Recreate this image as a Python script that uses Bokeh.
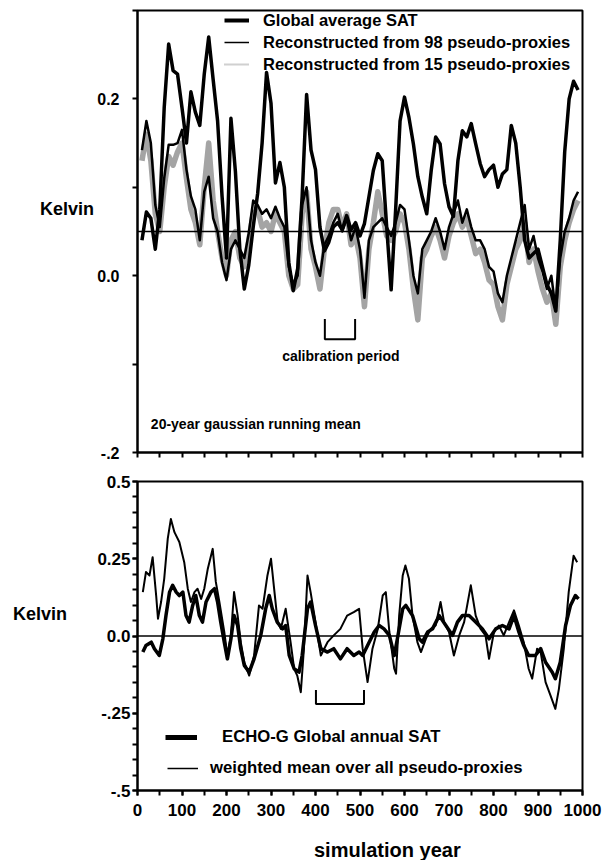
from bokeh.plotting import figure
from bokeh.layouts import column, row
from bokeh.models import (Range1d, FixedTicker, Span, Label, Legend, LegendItem,
                          CustomJSTickFormatter, Div)
from bokeh.embed import file_html
from bokeh.resources import INLINE

FONT = "Liberation Sans"
NAN = float("nan")

# ---------------- data: upper panel (20-year gaussian running mean) -------------
top_years = list(range(10, 1000, 10))
sat_top = [0.040, 0.072, 0.065, 0.030, 0.075, 0.190, 0.262, 0.232, 0.228, 0.190,
           0.150, 0.208, 0.185, 0.170, 0.228, 0.270, 0.222, 0.175, 0.090, 0.020,
           0.178, 0.118, 0.030, -0.015, 0.012, 0.055, 0.093, 0.150, 0.230, 0.195,
           0.105, 0.128, 0.100, 0.015, -0.017, 0.008, 0.090, 0.205, 0.142, 0.120,
           0.055, 0.028, 0.038, 0.055, 0.060, 0.052, 0.068, 0.052, 0.060, 0.045,
           0.059, 0.089, 0.119, 0.138, 0.130, 0.055, -0.016, 0.074, 0.175, 0.202,
           0.179, 0.149, 0.112, 0.089, 0.070, 0.119, 0.157, 0.149, 0.104, 0.078,
           0.067, 0.130, 0.164, 0.157, 0.172, 0.149, 0.127, 0.112, 0.120, 0.125,
           0.100, 0.115, 0.120, 0.170, 0.150, 0.100, 0.040, 0.020, 0.025, 0.030,
           0.010, -0.010, -0.020, -0.040, 0.040, 0.140, 0.200, 0.220, 0.210]
rec98_top = [0.142, 0.175, 0.150, 0.080, 0.055, 0.110, 0.148, 0.148, 0.150, 0.165,
             0.120, 0.090, 0.075, 0.040, 0.095, 0.112, 0.065, 0.050, 0.015, -0.005,
             0.030, 0.040, 0.030, 0.020, 0.048, 0.085, 0.080, 0.070, 0.075, 0.065,
             0.078, 0.065, 0.055, 0.010, -0.010, 0.000, 0.080, 0.100, 0.040, 0.015,
             0.000, 0.035, 0.045, 0.060, 0.070, 0.050, 0.065, 0.040, 0.055, 0.030,
             -0.025, 0.040, 0.055, 0.060, 0.065, 0.055, 0.045, 0.060, 0.080, 0.075,
             0.040, 0.000, -0.020, 0.030, 0.040, 0.050, 0.065, 0.050, 0.030, 0.055,
             0.070, 0.085, 0.060, 0.075, 0.055, 0.040, 0.040, 0.030, 0.010, 0.005,
             -0.020, -0.030, 0.000, 0.020, 0.040, 0.060, 0.080, 0.030, 0.045, 0.020,
             0.005, -0.015, 0.000, -0.040, 0.020, 0.050, 0.065, 0.085, 0.095]
rec15_top = [0.130, 0.160, 0.130, 0.070, 0.050, 0.100, 0.135, 0.125, 0.140, 0.150,
             0.110, 0.075, 0.060, 0.035, 0.100, 0.150, 0.085, 0.050, 0.020, 0.000,
             0.040, 0.050, 0.020, 0.010, 0.040, 0.070, 0.075, 0.055, 0.060, 0.050,
             0.070, 0.060, 0.050, 0.000, -0.015, -0.010, 0.070, 0.095, 0.030, 0.010,
             -0.015, 0.030, 0.060, 0.075, 0.075, 0.055, 0.070, 0.035, 0.045, 0.020,
             -0.035, 0.030, 0.060, 0.095, 0.070, 0.045, 0.040, 0.050, 0.070, 0.060,
             0.030, -0.015, -0.050, 0.020, 0.030, 0.045, 0.055, 0.040, 0.020, 0.045,
             0.060, 0.070, 0.055, 0.065, 0.045, 0.025, 0.030, 0.015, -0.005, -0.010,
             -0.035, -0.050, -0.010, 0.010, 0.030, 0.040, 0.060, 0.015, 0.030, 0.005,
             -0.015, -0.030, -0.020, -0.055, 0.010, 0.040, 0.060, 0.075, 0.085]
top_ref_level = 0.05
calib_top = [421, 489]

# ---------------- data: lower panel (annual) ----------------
thin_years = [12, 19, 27, 34, 42, 46, 53, 60, 68, 75, 83, 94, 105, 113, 120, 128, 135, 143,
              150, 158, 169, 176, 184, 195, 202, 210, 217, 225, 232, 240, 251, 262, 273,
              281, 292, 300, 307, 315, 322, 333, 344, 352, 359, 367, 374, 382, 389, 400,
              412, 427, 441, 456, 471, 486, 498, 506, 517, 528, 540, 551, 558, 566, 577,
              581, 588, 596, 602, 610, 618, 629, 637, 648, 659, 670, 681, 689, 700, 711,
              723, 734, 749, 760, 771, 782, 790, 801, 812, 823, 835, 846, 857, 868, 879,
              887, 898, 906, 917, 928, 939, 947, 958, 969, 980, 988]
thin_vals = [0.142, 0.207, 0.196, 0.255, 0.130, 0.056, 0.110, 0.185, 0.315, 0.379, 0.336,
             0.304, 0.239, 0.153, 0.110, 0.142, 0.153, 0.120, 0.153, 0.218, 0.282, 0.175,
             0.110, 0.013, -0.063, 0.002, 0.142, 0.067, -0.020, -0.085, -0.128, -0.063,
             0.099, 0.088, 0.196, 0.250, 0.153, 0.045, 0.023, 0.088, -0.020, -0.106,
             -0.128, -0.182, -0.040, 0.196, 0.142, 0.045, -0.063, -0.020, 0.002, 0.023,
             0.066, 0.077, 0.088, -0.041, -0.149, -0.041, 0.023, 0.131, 0.142, 0.013,
             -0.106, -0.122, 0.066, 0.196, 0.228, 0.185, 0.066, -0.020, -0.052, -0.009,
             0.023, 0.034, 0.110, 0.045, 0.013, -0.063, 0.002, 0.045, 0.164, 0.066,
             0.023, 0.002, -0.074, 0.013, 0.034, 0.002, 0.045, 0.083, 0.034, -0.020,
             -0.106, -0.138, -0.041, -0.052, -0.149, -0.192, -0.236, -0.171, -0.041,
             0.142, 0.260, 0.239]
thick_years = [12, 19, 31, 38, 49, 57, 64, 72, 79, 87, 94, 102, 109, 116, 124, 131, 139,
               146, 154, 165, 173, 180, 187, 195, 202, 210, 217, 225, 232, 240, 251, 262,
               277, 288, 296, 303, 314, 326, 333, 341, 352, 363, 370, 382, 389, 400, 412,
               427, 441, 456, 471, 486, 498, 506, 517, 532, 543, 554, 566, 577, 584, 596,
               603, 618, 633, 640, 652, 663, 678, 693, 708, 719, 730, 745, 760, 775, 790,
               805, 820, 835, 846, 857, 868, 879, 894, 906, 917, 932, 939, 950, 962, 973,
               984, 991]
thick_vals = [-0.052, -0.031, -0.020, -0.041, -0.063, -0.009, 0.066, 0.142, 0.164, 0.142,
              0.131, 0.142, 0.066, 0.045, 0.099, 0.131, 0.066, 0.045, 0.110, 0.142, 0.153,
              0.110, 0.045, -0.020, -0.074, -0.009, 0.066, 0.034, -0.041, -0.095, -0.117,
              -0.074, 0.002, 0.088, 0.131, 0.088, 0.045, 0.023, 0.034, -0.063, -0.106,
              -0.117, -0.063, 0.088, 0.110, 0.034, -0.041, -0.052, -0.041, -0.074, -0.041,
              -0.063, -0.052, -0.063, -0.031, 0.013, 0.034, 0.023, 0.002, -0.063, -0.009,
              0.088, 0.099, 0.066, -0.009, -0.020, 0.013, 0.023, 0.066, 0.034, 0.002,
              0.045, 0.066, 0.066, 0.045, 0.023, -0.009, 0.023, 0.034, 0.023, 0.066,
              0.013, -0.031, -0.063, -0.063, -0.041, -0.085, -0.117, -0.138, -0.085,
              0.034, 0.099, 0.131, 0.120]
calib_bot = [401, 509]

top_major_y = [-0.2, 0.0, 0.2]
top_minor_y = [-0.1, 0.1, 0.3]
bot_major_y = [-0.5, -0.25, 0.0, 0.25, 0.5]
bot_minor_y = [round(-0.5 + 0.05 * i, 2) for i in range(21)]
x_ticks_all = list(range(0, 1001, 50))
x_ticks_lab = list(range(0, 1001, 100))

DIV_W = 94
FIG_W = 607 - DIV_W
TEXT_CSS = ("position:absolute;left:%dpx;top:%dpx;font-family:'Liberation Sans',Arial,"
            "sans-serif;font-weight:bold;font-size:%dpx;line-height:%dpx;"
            "white-space:nowrap;color:black;")


def style(p):
    p.xgrid.visible = False
    p.ygrid.visible = False
    p.outline_line_color = "black"
    p.outline_line_width = 2
    p.outline_line_alpha = 1
    for ax in (p.xaxis[0], p.yaxis[0]):
        ax.axis_line_width = 2
        ax.axis_line_color = "black"
        ax.major_tick_line_width = 2
        ax.minor_tick_line_width = 2
        ax.major_tick_line_color = "black"
        ax.minor_tick_line_color = "black"
        ax.major_tick_in = 0
        ax.major_tick_out = 5
        ax.minor_tick_in = 0
        ax.minor_tick_out = 5
        ax.major_label_text_font = FONT
        ax.major_label_text_font_style = "bold"
        ax.major_label_text_color = "black"


def text_div(txt, left, top, size, width, height):
    css = TEXT_CSS % (left, top, size, size + 4)
    return Div(text='<div style="%s">%s</div>' % (css, txt),
               width=width, height=height, margin=0)


# ---------------- upper figure ----------------
p1 = figure(width=FIG_W, height=466, x_range=Range1d(0, 1000), y_range=Range1d(-0.2, 0.3),
            output_backend="svg", toolbar_location=None,
            min_border_left=136 - DIV_W, min_border_right=25, min_border_top=10,
            min_border_bottom=14)
style(p1)
p1.xaxis.ticker = FixedTicker(ticks=[], minor_ticks=x_ticks_all)
p1.yaxis.ticker = FixedTicker(ticks=top_major_y, minor_ticks=top_minor_y)
p1.yaxis.major_label_text_font_size = "16px"
p1.yaxis.major_label_standoff = 13
p1.yaxis.formatter = CustomJSTickFormatter(code="""
    if (Math.abs(tick - 0.2) < 1e-9) return '0.2';
    if (Math.abs(tick + 0.2) < 1e-9) return '-.2';
    return '0.0';
""")

p1.add_layout(Span(location=top_ref_level, dimension="width", line_color="black", line_width=1.5))
p1.line(top_years, rec15_top, line_color="#a4a4a4", line_width=5.5, line_join="round")
p1.line(top_years, rec98_top, line_color="black", line_width=2.5, line_join="round")
p1.line(top_years, sat_top, line_color="black", line_width=3.5, line_join="round")

p1.line([calib_top[0], calib_top[0], calib_top[1], calib_top[1]],
        [-0.049, -0.072, -0.072, -0.049], line_color="black", line_width=2)
p1.add_layout(Label(x=457, y=-0.091, text="calibration period", text_align="center",
                    text_baseline="middle", text_font=FONT, text_font_style="bold",
                    text_font_size="14px", text_color="black"))
p1.add_layout(Label(x=30, y=-0.168, text="20-year gaussian running mean", text_align="left",
                    text_baseline="middle", text_font=FONT, text_font_style="bold",
                    text_font_size="14px", text_color="black"))

d1 = p1.line([NAN], [NAN], line_color="black", line_width=4)
d2 = p1.line([NAN], [NAN], line_color="black", line_width=1.5)
d3 = p1.line([NAN], [NAN], line_color="#a0a0a0", line_width=2, line_dash="1 1")
leg1 = Legend(items=[LegendItem(label="Global average SAT", renderers=[d1]),
                     LegendItem(label="Reconstructed from 98 pseudo-proxies", renderers=[d2]),
                     LegendItem(label="Reconstructed from 15 pseudo-proxies", renderers=[d3])],
              location=(87, 378), glyph_width=25, glyph_height=20, label_height=20,
              label_standoff=14, spacing=2, padding=0, margin=0,
              border_line_alpha=0, background_fill_alpha=0,
              label_text_font=FONT, label_text_font_style="bold",
              label_text_font_size="16.5px", label_text_color="black")
p1.add_layout(leg1)

# ---------------- lower figure ----------------
p2 = figure(width=FIG_W, height=359, x_range=Range1d(0, 1000), y_range=Range1d(-0.5, 0.5),
            output_backend="svg", toolbar_location=None,
            min_border_left=136 - DIV_W, min_border_right=25, min_border_top=15,
            min_border_bottom=35)
style(p2)
p2.xaxis.ticker = FixedTicker(ticks=x_ticks_lab, minor_ticks=x_ticks_all)
p2.xaxis.major_label_text_font_size = "17px"
p2.xaxis.major_label_standoff = 8
p2.yaxis.ticker = FixedTicker(ticks=bot_major_y, minor_ticks=bot_minor_y)
p2.yaxis.major_label_text_font_size = "17px"
p2.yaxis.major_label_standoff = 2
p2.yaxis.formatter = CustomJSTickFormatter(code="""
    const m = [[0.5,'0.5'],[0.25,'0.25'],[0,'0.0'],[-0.25,'-.25'],[-0.5,'-.5']];
    for (const [v, s] of m) { if (Math.abs(tick - v) < 1e-9) return s; }
    return '';
""")

p2.add_layout(Span(location=0, dimension="width", line_color="black", line_width=1.5))
p2.line(thin_years, thin_vals, line_color="black", line_width=2, line_join="round")
p2.line(thick_years, thick_vals, line_color="black", line_width=3.5, line_join="round")
p2.line([calib_bot[0], calib_bot[0], calib_bot[1], calib_bot[1]],
        [-0.175, -0.22, -0.22, -0.175], line_color="black", line_width=2)

e1 = p2.line([NAN], [NAN], line_color="black", line_width=5)
e2 = p2.line([NAN], [NAN], line_color="black", line_width=1.5)
leg2 = Legend(items=[LegendItem(label="ECHO-G Global annual SAT", renderers=[e1])],
              location=(28, 43), glyph_width=32, glyph_height=20, label_height=20,
              label_standoff=25, padding=0, margin=0,
              border_line_alpha=0, background_fill_alpha=0,
              label_text_font=FONT, label_text_font_style="bold",
              label_text_font_size="16.7px", label_text_color="black")
leg3 = Legend(items=[LegendItem(label="weighted mean over all pseudo-proxies", renderers=[e2])],
              location=(30, 12), glyph_width=31, glyph_height=20, label_height=20,
              label_standoff=12, padding=0, margin=0,
              border_line_alpha=0, background_fill_alpha=0,
              label_text_font=FONT, label_text_font_style="bold",
              label_text_font_size="16.7px", label_text_color="black")
p2.add_layout(leg2)
p2.add_layout(leg3)

xlabel_div = text_div("simulation year", 314, 13, 20, 607, 35)

layout = column(row(text_div("Kelvin", 40, 198, 18, DIV_W, 466), p1),
                row(text_div("Kelvin", 13, 137, 18, DIV_W, 359), p2),
                xlabel_div)
open("out.html", "w").write(file_html(layout, INLINE))
